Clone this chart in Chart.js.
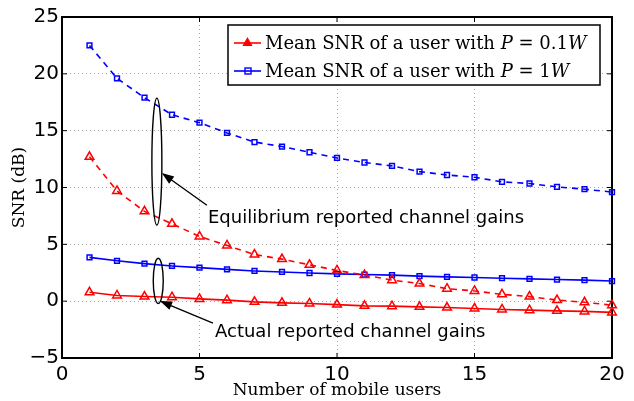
<!DOCTYPE html>
<html><head><meta charset="utf-8">
<script src="https://cdn.jsdelivr.net/npm/chart.js@4.4.0/dist/chart.umd.min.js"></script>
<style>html,body{margin:0;padding:0;background:#fff;}#wrap{width:634px;height:401px;}</style>
</head><body><div id="wrap"><canvas id="c" width="634" height="401"></canvas></div>
<script>
// ---- data ----
const users = [1,2,3,4,5,6,7,8,9,10,11,12,13,14,15,16,17,18,19,20];
const snrEqP01 = [12.7,9.7,7.9,6.8,5.7,4.9,4.1,3.7,3.2,2.7,2.3,1.85,1.55,1.1,0.9,0.6,0.4,0.1,-0.1,-0.35];
const snrEqP1  = [22.5,19.6,17.9,16.4,15.7,14.8,14.0,13.6,13.1,12.6,12.2,11.9,11.4,11.1,10.9,10.5,10.35,10.05,9.85,9.6];
const snrActP01 = [0.78,0.5,0.41,0.35,0.2,0.09,-0.06,-0.15,-0.2,-0.3,-0.41,-0.44,-0.5,-0.56,-0.64,-0.73,-0.79,-0.85,-0.9,-0.99];
const snrActP1  = [3.85,3.55,3.3,3.1,2.95,2.8,2.66,2.57,2.48,2.4,2.34,2.29,2.2,2.14,2.08,2.02,1.96,1.9,1.85,1.77];
const xTicks = [0,5,10,15,20];
const yTicks = [-5,0,5,10,15,20,25];
const legendP01 = [['Mean SNR of a user with ',false],['P',true],[' = 0.1',false],['W',true]];
const legendP1  = [['Mean SNR of a user with ',false],['P',true],[' = 1',false],['W',true]];
const noteEq = 'Equilibrium reported channel gains';
const noteAct = 'Actual reported channel gains';
const xTitle = 'Number of mobile users';
const yTitle = 'SNR (dB)';

const RED = '#ff0000', BLUE = '#0000ff';
const SERIF = '"DejaVu Serif", serif';
const SANS = '"DejaVu Sans", sans-serif';

function pts(arr){ return users.map((u,i)=>({x:u,y:arr[i]})); }
function ds(label, arr, color, style, dashed){
  return {label, data: pts(arr), borderColor: color, backgroundColor:'rgba(0,0,0,0)',
    borderWidth: 1.6, borderDash: dashed ? [6,5] : [], pointStyle: style,
    pointRadius: style==='triangle' ? 5 : 3.4, pointBorderWidth: 1.5,
    pointBorderColor: color, pointBackgroundColor: 'rgba(255,255,255,0)',
    tension: 0, clip: false};
}

const decor = {
  id:'decor',
  beforeDatasetsDraw(chart){
    const {ctx, chartArea:a, scales:{x,y}} = chart;
    ctx.save();
    ctx.strokeStyle = '#000'; ctx.lineWidth = 1;
    const tl = 5;
    xTicks.forEach(v=>{ const px = x.getPixelForValue(v);
      ctx.beginPath(); ctx.moveTo(px,a.bottom); ctx.lineTo(px,a.bottom-tl);
      ctx.moveTo(px,a.top); ctx.lineTo(px,a.top+tl); ctx.stroke(); });
    yTicks.forEach(v=>{ const py = y.getPixelForValue(v);
      ctx.beginPath(); ctx.moveTo(a.left,py); ctx.lineTo(a.left+tl,py);
      ctx.moveTo(a.right,py); ctx.lineTo(a.right-tl,py); ctx.stroke(); });
    ctx.lineWidth = 2;
    ctx.strokeRect(a.left, a.top, a.right-a.left, a.bottom-a.top);
    ctx.restore();
  },
  afterDraw(chart){
    const {ctx, scales:{x,y}} = chart;
    ctx.save();
    ctx.strokeStyle = '#000'; ctx.lineWidth = 1.4;
    const ell = (cx, y0, y1, rx)=>{
      const px = x.getPixelForValue(cx), p0 = y.getPixelForValue(y0), p1 = y.getPixelForValue(y1);
      ctx.beginPath(); ctx.ellipse(px,(p0+p1)/2,rx,Math.abs(p0-p1)/2,0,0,Math.PI*2); ctx.stroke();
    };
    ell(3.45, 6.7, 17.85, 5);
    ell(3.5, -0.2, 3.78, 5);
    const arrow = (x0,y0,x1,y1)=>{
      const ax=x.getPixelForValue(x0), ay=y.getPixelForValue(y0), bx=x.getPixelForValue(x1), by=y.getPixelForValue(y1);
      ctx.beginPath(); ctx.moveTo(ax,ay); ctx.lineTo(bx,by); ctx.stroke();
      const ang = Math.atan2(by-ay,bx-ax), L=10, w=0.35;
      ctx.beginPath(); ctx.moveTo(bx-L*Math.cos(ang-w), by-L*Math.sin(ang-w)); ctx.lineTo(bx,by);
      ctx.lineTo(bx-L*Math.cos(ang+w), by-L*Math.sin(ang+w)); ctx.closePath(); ctx.fillStyle='#000'; ctx.fill(); ctx.stroke();
    };
    arrow(5.27, 8.44, 3.69, 11.17);
    arrow(5.49, -1.93, 3.63, -0.06);
    ctx.fillStyle = '#000'; ctx.font = '18px '+SANS; ctx.textBaseline='alphabetic'; ctx.textAlign='left';
    ctx.fillText(noteEq, 208, 222.5);
    ctx.fillText(noteAct, 215, 337);
    // legend
    const L = {x:228, y:25, w:372, h:60};
    ctx.fillStyle = '#fff'; ctx.fillRect(L.x,L.y,L.w,L.h);
    ctx.strokeStyle = '#000'; ctx.lineWidth = 1.5; ctx.strokeRect(L.x,L.y,L.w,L.h);
    const items = [[legendP01, RED, 'triangle', 43],[legendP1, BLUE, 'rect', 71]];
    items.forEach(([segs,color,style,cy])=>{
      ctx.strokeStyle = color; ctx.lineWidth = 1.6; ctx.setLineDash([]);
      ctx.beginPath(); ctx.moveTo(234,cy); ctx.lineTo(261,cy); ctx.stroke();
      ctx.lineWidth = 1.4;
      if(style==='triangle'){ Chart.helpers.drawPoint(ctx,{pointStyle:'triangle',radius:4.5,rotation:0,borderWidth:1.4},247.5,cy); ctx.fillStyle=color; ctx.fill(); }
      else { ctx.strokeRect(245,cy-3,6,6); }
      ctx.fillStyle = '#000'; ctx.textBaseline='middle';
      let tx = 265;
      segs.forEach(([t,it])=>{ ctx.font = (it?'italic ':'')+'18px '+SERIF; ctx.fillText(t,tx,cy+1); tx += ctx.measureText(t).width; });
    });
    ctx.restore();
  }
};

const fmt = v => (v<0 ? '\u2212'+Math.abs(v) : String(v));

new Chart(document.getElementById('c'), {
  type:'line',
  data:{ datasets:[
    ds('eq01', snrEqP01, RED, 'triangle', true),
    ds('eq1', snrEqP1, BLUE, 'rect', true),
    ds('act01', snrActP01, RED, 'triangle', false),
    ds('act1', snrActP1, BLUE, 'rect', false)
  ]},
  options:{
    responsive:false, animation:false, devicePixelRatio:1,
    layout:{padding:{top:17,right:22,left:0,bottom:0}},
    plugins:{legend:{display:false}, tooltip:{enabled:false}},
    scales:{
      x:{type:'linear', min:0, max:20,
        afterBuildTicks(s){ s.ticks = xTicks.map(v=>({value:v})); },
        afterFit(s){ s.height = 43; },
        grid:{color:'#a8a8a8', lineWidth:1, drawTicks:false},
        border:{display:false, dash:[1,3]},
        ticks:{font:{family:SANS,size:20}, color:'#000', padding:5, maxRotation:0, callback:fmt},
        title:{display:true, text:xTitle, font:{family:SERIF,size:17}, color:'#000', padding:{top:0,bottom:0}}
      },
      y:{type:'linear', min:-5, max:25,
        afterBuildTicks(s){ s.ticks = yTicks.map(v=>({value:v})); },
        afterFit(s){ s.width = 62; },
        grid:{color:'#a8a8a8', lineWidth:1, drawTicks:false},
        border:{display:false, dash:[1,3]},
        ticks:{font:{family:SANS,size:20}, color:'#000', padding:3, callback:fmt},
        title:{display:true, text:yTitle, font:{family:SERIF,size:17}, color:'#000', padding:{top:9,bottom:0}}
      }
    }
  },
  plugins:[decor]
});
</script></body></html>
